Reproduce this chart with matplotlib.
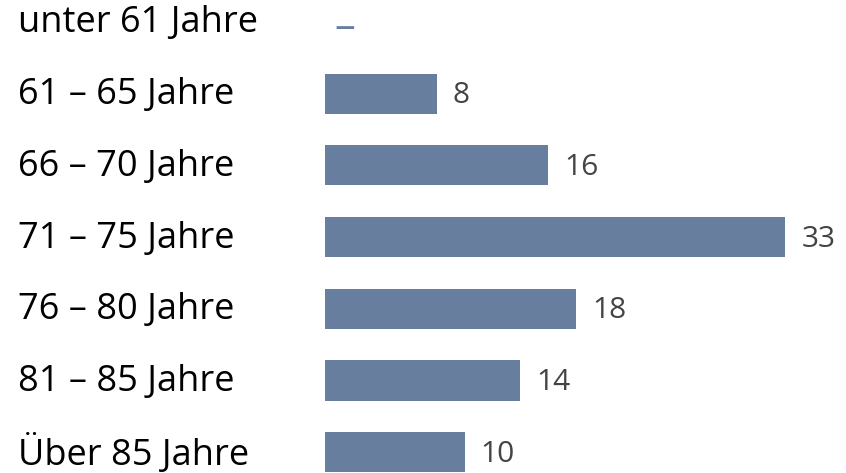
import matplotlib.pyplot as plt
import matplotlib.transforms as mtransforms

# Altersgruppen und Anteile
kategorien = ["unter 61 Jahre", "61 – 65 Jahre", "66 – 70 Jahre", "71 – 75 Jahre",
              "76 – 80 Jahre", "81 – 85 Jahre", "Über 85 Jahre"]
werte = [None, 8, 16, 33, 18, 14, 10]

farbe = "#687e9f"
plt.rcParams['font.family'] = ['Open Sans', 'DejaVu Sans']

fig = plt.figure(figsize=(8.46, 4.73), dpi=100)
ax = fig.add_axes([325 / 846, 0, 1 - 325 / 846, 1])

y = list(range(len(kategorien)))
ax.barh(y, [w if w is not None else 0 for w in werte], height=0.56, color=farbe)

ax.set_xlim(0, (846 - 325) / 13.95)
ax.set_ylim(6.29, -0.307)
ax.axis('off')

trans = mtransforms.blended_transform_factory(fig.transFigure, ax.transData)
for i, (k, w) in enumerate(zip(kategorien, werte)):
    ax.text(18 / 846, i + 0.02, k, transform=trans, ha='left', va='center',
            fontsize=26, color='black')
    if w is None:
        ax.text(0.65, i + 0.08, "–", ha='left', va='center', fontsize=30, color=farbe)
    else:
        ax.annotate(str(w), (w, i + 0.03), xytext=(16, 0), textcoords='offset pixels',
                    ha='left', va='center', fontsize=21.5, color='#444444')

fig.savefig("out.png", dpi=100)
